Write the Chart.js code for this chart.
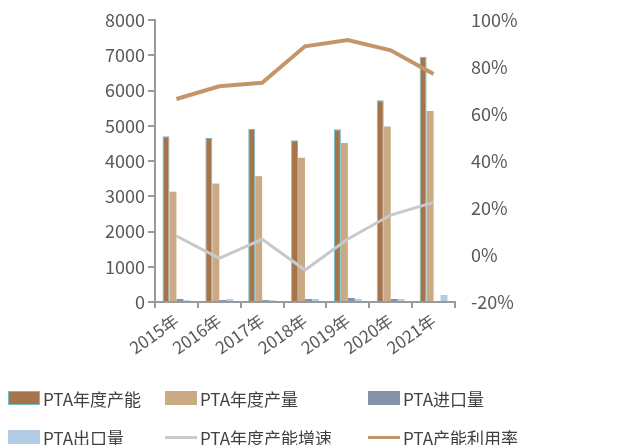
<!DOCTYPE html>
<html>
<head>
<meta charset="utf-8">
<script src="https://cdn.jsdelivr.net/npm/chart.js@4.4.1/dist/chart.umd.min.js"></script>
<style>
  body { margin: 0; background: #fff; }
  #wrap { position: relative; width: 617px; height: 445px; overflow: hidden; }
  #legend { position: absolute; left: 0; top: 0; width: 617px; height: 445px; pointer-events: none; }
  .item { position: absolute; height: 24px; display: flex; align-items: center;
          font-family: "Noto Sans CJK SC", "Noto Sans", sans-serif; font-size: 17px; color: #404040; white-space: nowrap; }
  .swatch { width: 32px; margin-right: 3px; box-sizing: border-box; }
</style>
</head>
<body>
<div id="wrap">
  <canvas id="chart" width="617" height="375"></canvas>
  <div id="legend"></div>
</div>
<script>
// categories and series
const years = ['2015年', '2016年', '2017年', '2018年', '2019年', '2020年', '2021年'];
const capacity = [4700, 4650, 4910, 4590, 4900, 5720, 6960];      // PTA年度产能
const output = [3130, 3360, 3570, 4090, 4510, 4980, 5420];        // PTA年度产量
const imports = [85, 55, 55, 85, 115, 85, 0];                      // PTA进口量
const exports = [50, 85, 50, 85, 85, 85, 200];                     // PTA出口量
const capacityGrowth = [8.1, -1.4, 6.7, -6.4, 6.8, 17.0, 22.4];    // PTA年度产能增速 (%)
const utilization = [66.4, 71.8, 73.3, 88.8, 91.5, 87.1, 77.0];    // PTA产能利用率 (%)

const FONT = '"Noto Sans CJK SC", "Noto Sans", sans-serif';
const AXIS_GRAY = '#9a9a9a';
const TEXT_GRAY = '#595959';

const datasets = [
  { type: 'bar', label: 'PTA年度产能', data: capacity, backgroundColor: '#a5744a',
    borderColor: '#72bcc4', borderWidth: 1, yAxisID: 'y', order: 1 },
  { type: 'bar', label: 'PTA年度产量', data: output, backgroundColor: '#c9aa84', yAxisID: 'y', order: 1 },
  { type: 'bar', label: 'PTA进口量', data: imports, backgroundColor: '#8591a7', yAxisID: 'y', order: 1 },
  { type: 'bar', label: 'PTA出口量', data: exports, backgroundColor: '#b4cde6', yAxisID: 'y', order: 1 },
  { type: 'line', label: 'PTA年度产能增速', data: capacityGrowth, borderColor: '#c8c9cb',
    borderWidth: 3, pointRadius: 0, tension: 0, yAxisID: 'y1', order: 0 },
  { type: 'line', label: 'PTA产能利用率', data: utilization, borderColor: '#c4956a',
    borderWidth: 4, pointRadius: 0, tension: 0, yAxisID: 'y1', order: 0 }
];

const chart = new Chart(document.getElementById('chart'), {
  type: 'bar',
  data: { labels: years, datasets: datasets },
  options: {
    responsive: false,
    animation: false,
    layout: { padding: { top: 20, left: 0, right: 0, bottom: 0 } },
    datasets: { bar: { categoryPercentage: 0.65, barPercentage: 1.0 } },
    plugins: { legend: { display: false }, tooltip: { enabled: false } },
    scales: {
      x: {
        grid: { display: true, drawOnChartArea: false, offset: true, tickLength: 6, color: AXIS_GRAY, lineWidth: 2 },
        border: { color: AXIS_GRAY, width: 2 },
        ticks: { maxRotation: 35, minRotation: 35, padding: 2, color: TEXT_GRAY, font: { family: FONT, size: 17 } },
        afterFit: (scale) => { scale.height = 73; }
      },
      y: {
        position: 'left', min: 0, max: 8000,
        grid: { display: true, drawOnChartArea: false, tickLength: 7, color: AXIS_GRAY, lineWidth: 2 },
        border: { color: AXIS_GRAY, width: 2 },
        ticks: { stepSize: 1000, padding: 3, color: TEXT_GRAY, font: { family: FONT, size: 18 },
                 callback: (v) => String(v) },
        afterFit: (scale) => { scale.width = 155; }
      },
      y1: {
        position: 'right', min: -20, max: 100,
        grid: { display: false },
        border: { display: false },
        ticks: { stepSize: 20, padding: 8, color: TEXT_GRAY, font: { family: FONT, size: 18 },
                 callback: (v) => v + '%' },
        afterFit: (scale) => { scale.width = 162; }
      }
    }
  }
});

// HTML legend built from the chart datasets, laid out as a 3 x 2 grid
const legendCols = [8, 165, 368];
const legendRows = [398, 437];
const legendEl = document.getElementById('legend');
chart.data.datasets.forEach((ds, i) => {
  const item = document.createElement('div');
  item.className = 'item';
  item.style.left = legendCols[i % 3] + 'px';
  item.style.top = (legendRows[Math.floor(i / 3)] - 12) + 'px';
  const sw = document.createElement('div');
  sw.className = 'swatch';
  if (ds.type === 'line') {
    sw.style.height = '3px';
    sw.style.background = ds.borderColor;
  } else {
    sw.style.height = '14px';
    sw.style.background = ds.backgroundColor;
    if (ds.borderWidth) sw.style.border = ds.borderWidth + 'px solid ' + ds.borderColor;
  }
  const txt = document.createElement('span');
  txt.textContent = ds.label;
  item.appendChild(sw);
  item.appendChild(txt);
  legendEl.appendChild(item);
});
</script>
</body>
</html>
